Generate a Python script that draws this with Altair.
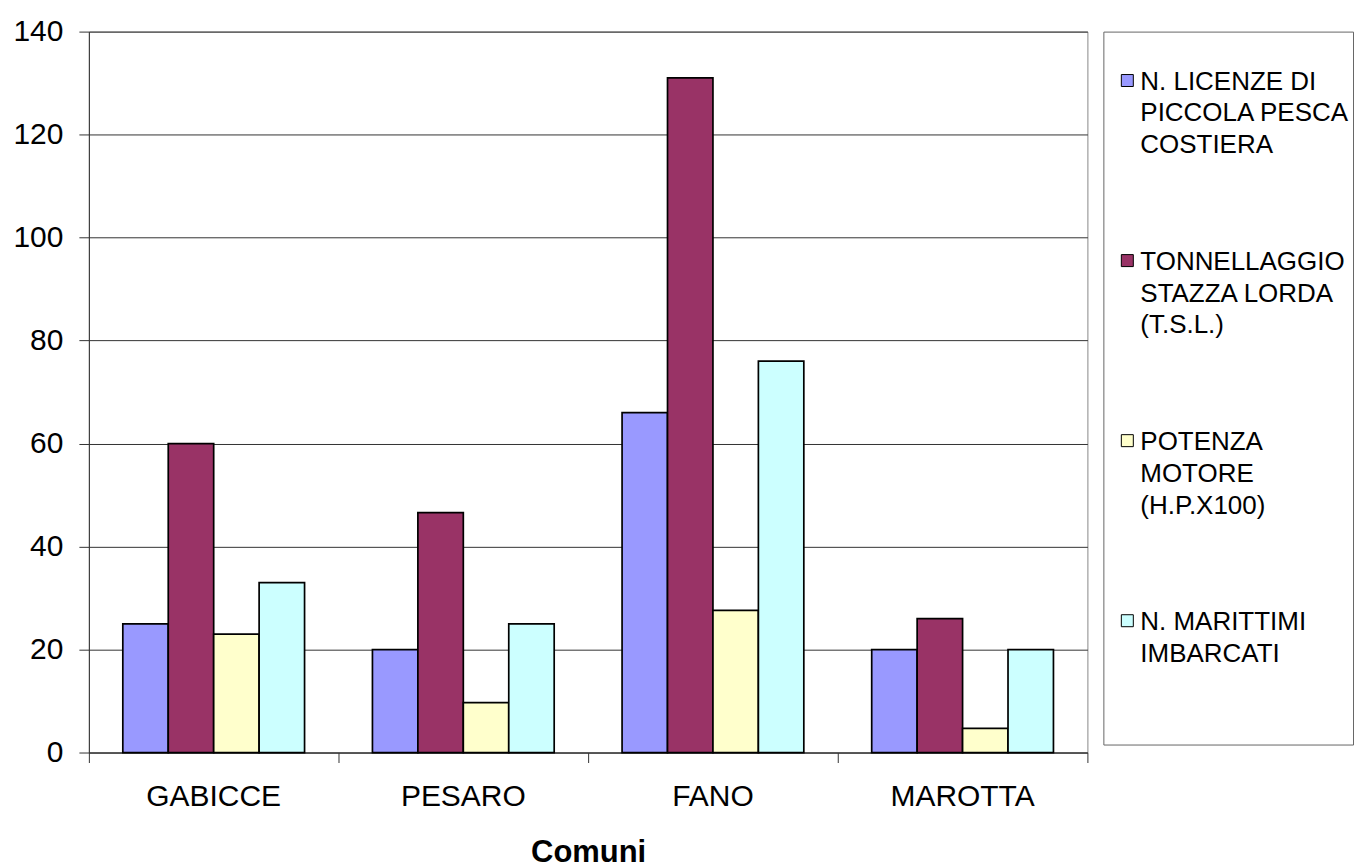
import altair as alt
import pandas as pd

# Comuni (categories on the x axis)
comuni = ["GABICCE", "PESARO", "FANO", "MAROTTA"]

# Series names and their legend labels (line-broken)
serie = [
    "N. LICENZE DI PICCOLA PESCA COSTIERA",
    "TONNELLAGGIO STAZZA LORDA (T.S.L.)",
    "POTENZA MOTORE (H.P.X100)",
    "N. MARITTIMI IMBARCATI",
]
etichette = [
    "N. LICENZE DI\nPICCOLA PESCA\nCOSTIERA",
    "TONNELLAGGIO\nSTAZZA LORDA\n(T.S.L.)",
    "POTENZA\nMOTORE\n(H.P.X100)",
    "N. MARITTIMI\nIMBARCATI",
]
colori = ["#9999FF", "#993366", "#FFFFCC", "#CCFFFF"]

# Values per comune, one list per series
licenze = [25, 20, 66, 20]
tonnellaggio = [60, 46.6, 131, 26]
potenza = [23, 9.7, 27.6, 4.7]
marittimi = [33, 25, 76, 20]

valori = [licenze, tonnellaggio, potenza, marittimi]
rows = []
for s, vals in zip(serie, valori):
    for c, v in zip(comuni, vals):
        rows.append({"comune": c, "serie": s, "valore": v})
df = pd.DataFrame(rows)

FONT = "Liberation Sans"
color_scale = alt.Scale(domain=serie, range=colori)

bars = alt.Chart(df).mark_bar(stroke="black", strokeWidth=1.7).encode(
    x=alt.X(
        "comune:N",
        sort=comuni,
        scale=alt.Scale(paddingInner=0, paddingOuter=0),
        axis=alt.Axis(
            title="Comuni",
            labelAngle=0,
            bandPosition=1,
            tickExtra=True,
            tickSize=10,
            tickColor="#333333",
            domainColor="#333333",
            labelFontSize=30,
            labelColor="black",
            labelPadding=19,
            titleFontSize=31,
            titleFontWeight="bold",
            titleColor="black",
            titlePadding=26,
        ),
    ),
    xOffset=alt.XOffset(
        "serie:N", sort=serie, scale=alt.Scale(paddingInner=0, paddingOuter=0.747)
    ),
    y=alt.Y(
        "valore:Q",
        scale=alt.Scale(domain=[0, 140], nice=False),
        axis=alt.Axis(
            title=None,
            values=[0, 20, 40, 60, 80, 100, 120, 140],
            grid=True,
            gridColor="#333333",
            gridWidth=1,
            tickSize=10,
            tickColor="#333333",
            domainColor="#333333",
            labelFontSize=30,
            labelColor="black",
            labelPadding=16,
        ),
    ),
    color=alt.Color("serie:N", scale=color_scale, legend=None),
).properties(width=1000, height=722, view=alt.ViewBackground(stroke="#888888"))

# Boxed legend drawn as its own panel
leg = pd.DataFrame({"serie": serie, "etichetta": etichette})
legend_y = alt.Y(
    "serie:N",
    sort=serie,
    scale=alt.Scale(type="point", domain=serie, range=[49, 590], padding=0),
    axis=None,
)
squares = alt.Chart(leg).mark_square(
    size=144, stroke="black", strokeWidth=1, opacity=1
).encode(
    x=alt.value(24),
    y=legend_y,
    color=alt.Color("serie:N", scale=color_scale, legend=None),
)
texts = alt.Chart(leg).mark_text(
    align="left",
    baseline="alphabetic",
    dy=9,
    fontSize=26,
    lineBreak="\n",
    lineHeight=32,
    color="black",
).encode(x=alt.value(37), y=legend_y, text="etichetta:N")

legend = alt.layer(squares, texts).properties(
    width=250,
    height=714,
    view=alt.ViewBackground(stroke="#666666"),
)

chart = (
    alt.hconcat(bars, legend, spacing=14)
    .properties(padding={"left": 12, "top": 15, "right": 0, "bottom": 0}, background="white")
    .configure(font=FONT)
)

chart.save("out.html", embed_options={"renderer": "svg", "actions": False})
